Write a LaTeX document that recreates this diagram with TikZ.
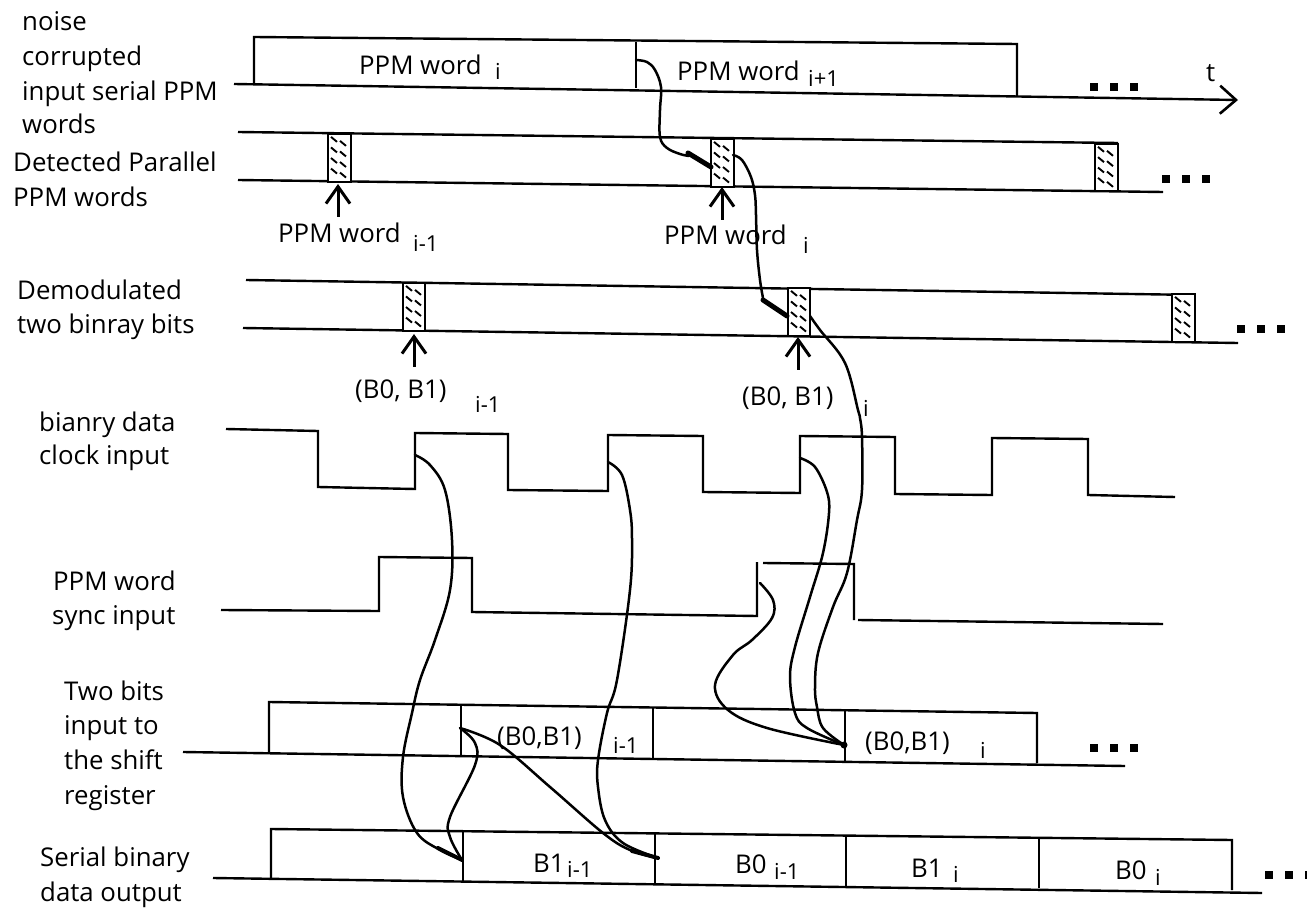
\documentclass[tikz,border=0pt]{standalone}
\usepackage{fontspec}
\setmainfont{Open Sans}
\usetikzlibrary{arrows.meta}
\tikzset{
  lbl/.style={anchor=base west,inner sep=0pt,font=\fontsize{25.8}{30}\selectfont},
  wave/.style={line width=2.4pt,line join=miter},
  trace/.style={line width=2.5pt,line cap=round,line join=round},
  heavy/.style={line width=5pt,line cap=round},
  hatchbox/.style={line width=2.6pt,fill=white},
  upar/.style={line width=3pt,-{Straight Barb[length=17pt,width=24pt,line width=3pt]}},
  dotmark/.style={fill=black,draw=none}
}
\newcommand{\hatched}[4]{%
  \draw[hatchbox] (#1,#2) rectangle (#3,#4);
  \foreach \fy in {0.06,0.28,0.5,0.72}{
    \draw[line width=1.9pt] ({#1+3},{#2+(#4-#2)*\fy}) -- ++(6,5);
    \draw[line width=1.9pt] ({#1+12},{#2+(#4-#2)*\fy+4}) -- ++(6,5);
  }}
\newcommand{\threedots}[2]{%
  \foreach \dd in {0,20,40}{\fill[dotmark] ({#1+\dd},#2) rectangle ++(8,8);}}
\newcommand{\wsub}[4]{\makebox[#2pt][l]{#1}\raisebox{-#3pt}{\fontsize{22}{25}\selectfont #4}}
\begin{document}
\begin{tikzpicture}[x=1pt,y=-1pt]
\useasboundingbox (0,0) rectangle (1307,909);
\fill[white] (0,0) rectangle (1307,909);

% row 1
\draw[wave] (254,84) -- (254,37) -- (1017,44) -- (1017,96);
\draw[wave] (636,42) -- (636,88);
\draw[wave,-{Straight Barb[length=16pt,width=28pt,line width=2.6pt]}] (234,84) -- (1238,100);
\threedots{1090}{83}

% row 2
\draw[wave] (238,132) -- (1118,143);
\draw[wave] (238,180) -- (1163,192);
\hatched{328}{134}{351}{182}
\hatched{711}{139}{734}{187}
\hatched{1095}{144}{1118}{191}
\threedots{1162}{175}

% row 3
\draw[wave] (246,280) -- (1195,295);
\draw[wave] (243,328) -- (1238,343);
\hatched{403}{283}{425}{331}
\hatched{788}{288}{810}{336}
\hatched{1172}{294}{1195}{342}
\threedots{1237}{325}

% pointer arrows
\coordinate (a1s) at (338,217); \coordinate (a1e) at (338,184);
\coordinate (a2s) at (722,220); \coordinate (a2e) at (722,187);
\coordinate (a3s) at (414,367); \coordinate (a3e) at (414,334);
\coordinate (a4s) at (798,370); \coordinate (a4e) at (798,337);
\draw[upar] (a1s) -- (a1e);
\draw[upar] (a2s) -- (a2e);
\draw[upar] (a3s) -- (a3e);
\draw[upar] (a4s) -- (a4e);

% clock
\draw[wave] (226,429) -- (318,431) -- (318,487) -- (415,489) -- (415,433) -- (508,434) -- (508,490) -- (608,491) -- (608,435) -- (703,436) -- (703,492) -- (800,493) -- (800,436) -- (895,437) -- (895,494) -- (992,495) -- (992,438) -- (1088,439) -- (1088,495) -- (1175,497);

% sync
\draw[wave] (221,610) -- (379,611) -- (379,557) -- (472,558) -- (472,612) -- (757,616) -- (757,562);
\draw[wave] (763,563) -- (854,564) -- (854,620);
\draw[wave] (858,620) -- (1163,624);

% shift register row
\draw[wave] (269,752) -- (269,702) -- (1037,713) -- (1037,763);
\draw[wave] (461,705) -- (461,756);
\draw[wave] (653,708) -- (653,758);
\draw[wave] (845,710) -- (845,761);
\draw[wave] (183,752) -- (1125,766);
\threedots{1090}{744}

% output row
\draw[wave] (271,878) -- (271,829) -- (1232,840) -- (1232,890);
\draw[wave] (463,832) -- (463,882);
\draw[wave] (655,834) -- (655,884);
\draw[wave] (846,836) -- (846,886);
\draw[wave] (1039,838) -- (1039,888);
\draw[wave] (213,878) -- (1262,893);
\threedots{1265}{871}

% hand-drawn traces
\draw[trace] plot[smooth,tension=0.6] coordinates {(636,60) (647,62) (655,70) (661,87) (660,110) (660,137) (667,148) (680,154) (689,156)};
\draw[heavy] (688,153) -- (711,167);
\draw[trace] plot[smooth,tension=0.6] coordinates {(733,155) (742,160) (751,177) (755,195) (756,215) (757,250) (760,280) (763,298)};
\draw[heavy] (763,300) -- (787,316);
\draw[trace] plot[smooth,tension=0.6] coordinates {(810,316) (820,330) (845,363) (858,410) (860,418) (862,437) (862,490) (857,520) (847,573) (833,607) (818,653) (815,687) (817,707) (823,728) (844,745)};
\draw[trace] plot[smooth,tension=0.6] coordinates {(800,458) (815,467) (827,492) (829,513) (823,553) (810,597) (795,647) (790,677) (795,713) (807,728) (844,745)};
\draw[trace] plot[smooth,tension=0.6] coordinates {(760,583) (773,600) (772,618) (752,640) (733,655) (715,685) (728,710) (767,728) (844,745)};
\fill (844,745) circle (3.5);

\draw[trace] plot[smooth,tension=0.6] coordinates {(415,455) (430,465) (445,490) (452,540) (450,590) (435,640) (420,680) (412,713) (403,757) (403,797) (417,833) (440,850) (462,860)};
\draw[trace] plot[smooth,tension=0.6] coordinates {(608,462) (622,475) (630,510) (632,540) (630,590) (617,680) (607,713) (598,760) (598,787) (605,820) (623,843) (658,858)};
\draw[trace] plot[smooth,tension=0.6] coordinates {(460,728) (475,743) (475,765) (450,817) (450,837) (462,860)};
\draw[trace] plot[smooth,tension=0.6] coordinates {(460,728) (500,745) (550,787) (603,833) (630,850) (658,858)};
\draw[heavy,line width=4pt] (438,848) -- (462,860);
\draw[heavy,line width=4pt] (632,851) -- (658,858);

% labels
\node[lbl] (l1a) at (22,31) {noise};
\node[lbl] (l1b) at (22,66) {corrupted};
\node[lbl] (l1c) at (22,101) {input serial PPM};
\node[lbl] (l1d) at (22,134) {words};
\node[lbl] (l2a) at (13,172) {Detected Parallel};
\node[lbl] (l2b) at (13,207) {PPM words};
\node[lbl] (l3a) at (17,300) {Demodulated};
\node[lbl] (l3b) at (17,334) {two binray bits};
\node[lbl] (l4a) at (39,431) {bianry data};
\node[lbl] (l4b) at (39,464) {clock input};
\node[lbl] (l5a) at (53,590) {PPM word};
\node[lbl] (l5b) at (52,624) {sync input};
\node[lbl] (l6a) at (64,700) {Two bits};
\node[lbl] (l6b) at (64,734) {input to};
\node[lbl] (l6c) at (64,769) {the shift};
\node[lbl] (l6d) at (64,804) {register};
\node[lbl] (l7a) at (40,866) {Serial binary};
\node[lbl] (l7b) at (40,901) {data output};

\node[lbl] (w1) at (359,75) {\wsub{PPM word}{136}{5}{i}};
\node[lbl] (w2) at (677,81) {\wsub{PPM word}{131}{6}{i+1}};
\node[lbl] (tt) at (1206,82) {t};
\node[lbl] (w3) at (278,243) {\wsub{PPM word}{135}{9}{i-1}};
\node[lbl] (w4) at (664,245) {\wsub{PPM word}{139}{9}{i}};
\node[lbl] (b1) at (355,398) {\wsub{(B0, B1)}{120}{14}{i-1}};
\node[lbl] (b2) at (742,405) {\wsub{(B0, B1)}{121}{12}{i}};
\node[lbl] (c1) at (497,745) {\wsub{(B0,B1)}{116}{8}{i-1}};
\node[lbl] (c2) at (865,750) {\wsub{(B0,B1)}{115}{8}{i}};
\node[lbl] (o1) at (533,872) {\wsub{B1}{34}{5}{i-1}};
\node[lbl] (o2) at (735,873) {\wsub{B0}{39}{6}{i-1}};
\node[lbl] (o3) at (911,877) {\wsub{B1}{42}{5}{i}};
\node[lbl] (o4) at (1115,879) {\wsub{B0}{40}{6}{i}};
\end{tikzpicture}
\end{document}
